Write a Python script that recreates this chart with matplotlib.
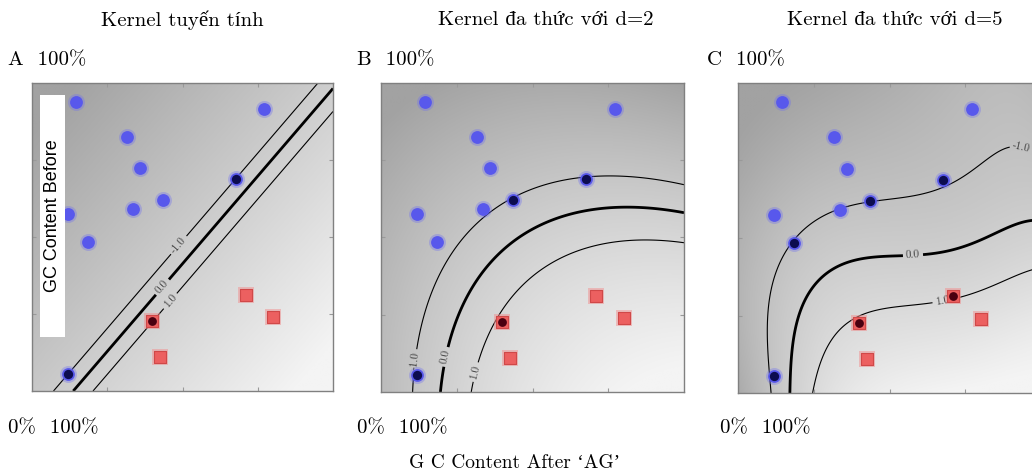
import numpy as np
import matplotlib
matplotlib.use('Agg')
import matplotlib.pyplot as plt
from matplotlib.colors import LinearSegmentedColormap
from matplotlib.patches import Rectangle

# data points (GC content as fraction, same set in each panel)
blue_x = [0.146, 0.771, 0.316, 0.359, 0.678, 0.435, 0.336, 0.120, 0.186, 0.120]
blue_y = [0.938, 0.916, 0.825, 0.724, 0.688, 0.620, 0.591, 0.575, 0.484, 0.055]
red_x = [0.711, 0.801, 0.399, 0.425]
red_y = [0.312, 0.240, 0.227, 0.110]

# support vectors (indices) for each panel
sv_blue = [[4, 9], [4, 5, 9], [4, 5, 8, 9]]
sv_red = [[2], [2], [0, 2]]

# decision contours: x, y, level
lin_cx = [0.120, 0.678, 0.947, 0.143, 1.000, 0.203, 0.399, 1.000]
lin_cy = [0.055, 0.688, 1.000, 0.003, 0.984, 0.003, 0.227, 0.903]
lin_lv = [-1, -1, -1, 0, 0, 1, 1, 1]

d2_cx = [0.112, 0.436, 0.677, 1.000, 0.191, 0.228, 0.337, 0.558, 0.779, 1.000, 0.300, 0.396, 0.667, 1.000]
d2_cy = [0.094, 0.625, 0.693, 0.670, 0.006, 0.159, 0.395, 0.566, 0.595, 0.579, 0.006, 0.236, 0.469, 0.485]
d2_lv = [-1, -1, -1, -1, 0, 0, 0, 0, 0, 0, 1, 1, 1, 1]

d5_cx = [0.119, 0.106, 0.122, 0.182, 0.260, 0.340, 0.439, 0.677, 0.865, 0.974,
         0.172, 0.182, 0.205, 0.260, 0.370, 0.525, 0.644, 0.809, 0.974,
         0.238, 0.270, 0.337, 0.399, 0.535, 0.706, 0.865, 0.974,
         0.0, 1.0, 0.0, 1.0, 0.6, 0.5]
d5_cy = [0.003, 0.181, 0.374, 0.487, 0.558, 0.594, 0.619, 0.687, 0.752, 0.784,
         0.003, 0.181, 0.310, 0.374, 0.406, 0.429, 0.455, 0.494, 0.558,
         0.003, 0.129, 0.203, 0.232, 0.277, 0.316, 0.355, 0.397,
         1.0, 0.0, 0.0, 1.0, 0.1, 0.85]
d5_lv = [-1] * 10 + [0] * 9 + [1] * 8 + [-4, 3.5, -3, -2, 2.3, -2.1]

panel_titles = ['Kernel tuyến tính', 'Kernel đa thức với d=2', 'Kernel đa thức với d=5']
panel_letters = ['A', 'B', 'C']


def design(x, y, deg):
    cols = [x ** i * y ** j for i in range(deg + 1) for j in range(deg + 1 - i)]
    return np.stack(cols, axis=-1)


def fit_decision(cx, cy, lv, deg):
    A = design(np.array(cx), np.array(cy), deg)
    b = np.array(lv, dtype=float)
    coef = np.linalg.solve(A.T @ A + 1e-6 * np.eye(A.shape[1]), A.T @ b)
    return coef


plt.rcParams['font.family'] = ['cmr10', 'Liberation Serif']
plt.rcParams['axes.unicode_minus'] = False

fig = plt.figure(figsize=(10.32, 4.75), dpi=100)

W, H = 1032, 475
frames = [(32, 83, 301, 308), (381, 83, 303, 309), (738, 83, 303, 310)]
fits = [(lin_cx, lin_cy, lin_lv, 1), (d2_cx, d2_cy, d2_lv, 2), (d5_cx, d5_cy, d5_lv, 5)]
label_pos = [[(0.48, 0.48), (0.43, 0.34), (0.45, 0.30)],
             [(0.115, 0.10), (0.217, 0.113), (0.31, 0.065)],
             [(0.93, 0.768), (0.578, 0.435), (0.673, 0.306)]]

bg_cmap = LinearSegmentedColormap.from_list('bg', ['#a2a2a2', '#f4f4f4'])
xs = np.linspace(0, 1, 300)
gx, gy = np.meshgrid(xs, xs)

for k in range(3):
    left, top, w, h = frames[k]
    ax = fig.add_axes([left / W, (H - top - h) / H, w / W, h / H])
    cx, cy, lv, deg = fits[k]
    coef = fit_decision(cx, cy, lv, deg)
    F = design(gx, gy, deg) @ coef

    lo, hi = np.percentile(F, 1), np.percentile(F, 99)
    ax.imshow(F, origin='lower', extent=(0, 1, 0, 1), cmap=bg_cmap, vmin=lo, vmax=hi,
              aspect='auto', interpolation='bilinear')
    cs = ax.contour(xs, xs, F, levels=[-1, 0, 1], colors='k', linestyles='solid',
                    linewidths=[0.8, 2.0, 0.8])
    ax.clabel(cs, fmt='%1.1f', fontsize=8, colors='#444444', inline=True,
              inline_spacing=3, manual=label_pos[k])

    bx, by = np.array(blue_x), np.array(blue_y)
    rx, ry = np.array(red_x), np.array(red_y)
    ax.scatter(bx, by, s=150, color='#7070f0', alpha=0.35, lw=0, zorder=3)
    ax.scatter(bx, by, s=85, color='#5858ec', lw=0, zorder=4)
    ax.scatter(rx, ry, s=120, marker='s', color='#f09090', alpha=0.5, lw=0, zorder=3)
    ax.scatter(rx, ry, s=75, marker='s', color='#ec6060', edgecolors='#d04848', lw=0.8, zorder=4)
    sb, sr = sv_blue[k], sv_red[k]
    ax.scatter(bx[sb], by[sb], s=45, color='#0c0c50', lw=0, zorder=5)
    ax.scatter(rx[sr], ry[sr], s=40, color='#4a0010', lw=0, zorder=5)

    ax.set_xlim(0, 1)
    ax.set_ylim(0, 1)
    ax.set_xticks([0.25, 0.5, 0.75])
    ax.set_yticks([0.25, 0.5, 0.75])
    ax.tick_params(direction='in', length=3, color='#999999', labelleft=False, labelbottom=False,
                   top=True, right=True)
    for s in ax.spines.values():
        s.set_color('#808080')
        s.set_linewidth(1.0)

    fig.text([8, 357, 707][k] / W, 1 - 60 / H, panel_letters[k] + '  100%',
             ha='left', va='center', fontsize=15)
    fig.text([8, 357, 720][k] / W, 1 - 428 / H, '0%  100%', ha='left', va='center', fontsize=15)

fig.text(182 / W, 1 - 20 / H, panel_titles[0], ha='center', va='center', fontsize=15)
fig.text(546 / W, 1 - 20 / H, panel_titles[1], ha='center', va='center', fontsize=15)
fig.text(895 / W, 1 - 20 / H, panel_titles[2], ha='center', va='center', fontsize=15)
fig.text(515 / W, 1 - 463 / H, 'G C Content After ‘AG’', ha='center', va='center', fontsize=14)

# vertical y label on a white strip inside panel A
fig.add_artist(Rectangle((40 / W, (H - 337) / H), 25 / W, 242 / H, transform=fig.transFigure,
                         facecolor='white', edgecolor='none', zorder=5))
fig.text(52.5 / W, 1 - 216 / H, 'GC Content Before', rotation=90, ha='center', va='center',
         fontsize=13, family='Liberation Sans', zorder=6)

fig.savefig('out.png', dpi=100)
